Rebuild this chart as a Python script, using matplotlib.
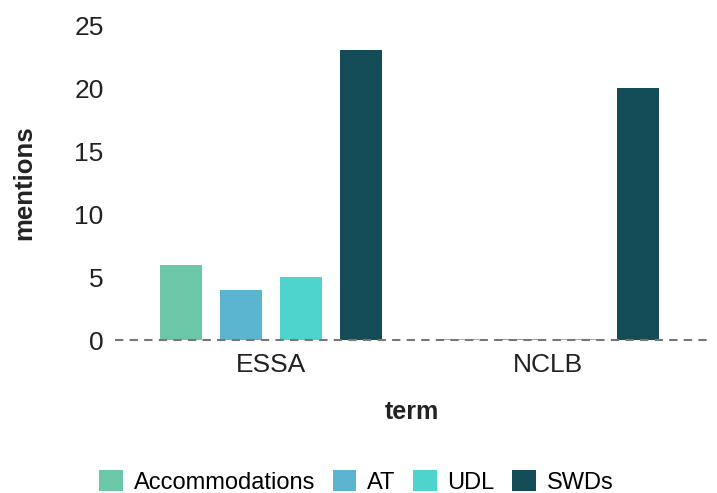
import matplotlib
matplotlib.use("Agg")
import matplotlib.pyplot as plt
import numpy as np

plt.rcParams['font.family'] = ['Liberation Sans', 'DejaVu Sans']

terms = ["ESSA", "NCLB"]
series = ["Accommodations", "AT", "UDL", "SWDs"]
values = {
    "Accommodations": [6, 0],
    "AT": [4, 0],
    "UDL": [5, 0],
    "SWDs": [23, 20],
}
colors = ["#6cc7a8", "#5bb4d0", "#4fd3cd", "#134c56"]
yticks = [0, 5, 10, 15, 20, 25]

fig = plt.figure(figsize=(7.17, 4.93), dpi=100)
ax = fig.add_axes([0.160, 0.300, 0.830, 0.659])

x = np.arange(len(terms))
step = 0.2166
width = 0.152
for i, (s, c) in enumerate(zip(series, colors)):
    offs = (i - 1.5) * step
    vals = values[s]
    ax.bar(x + offs, vals, width=width, color=c, label=s, zorder=2)
    # zero-value bars shown as thin marks on the baseline
    for xi, v in zip(x, vals):
        if v == 0:
            ax.bar(xi + offs, 0.12, width=width, color=c, zorder=2)

ax.axhline(0, color="#777777", linestyle=(0, (4, 3)), linewidth=1.5, zorder=3)

ax.set_xlim(-0.563, 1.585)
ax.set_ylim(-0.4, 25.4)
ax.set_xticks(x)
ax.set_xticklabels(terms, fontsize=19, color="#222222")
ax.set_yticks(yticks)
ax.set_yticklabels([str(t) for t in yticks], fontsize=19, color="#222222")
ax.tick_params(length=0)
ax.tick_params(axis='y', pad=8)
ax.tick_params(axis='x', pad=6)
for sp in ax.spines.values():
    sp.set_visible(False)

ax.set_ylabel("mentions", fontsize=18.5, fontweight="bold", labelpad=27, color="#222222")
ax.set_xlabel("term", fontsize=18, fontweight="bold", labelpad=16, color="#222222")

handles, labels = ax.get_legend_handles_labels()
fig.legend(handles, labels, loc="center", bbox_to_anchor=(0.497, 0.022), ncol=4,
           frameon=False, fontsize=17, handlelength=1.0, handleheight=1.0,
           handletextpad=0.45, columnspacing=0.75, borderpad=0.2)

fig.savefig("out.png", dpi=100)
